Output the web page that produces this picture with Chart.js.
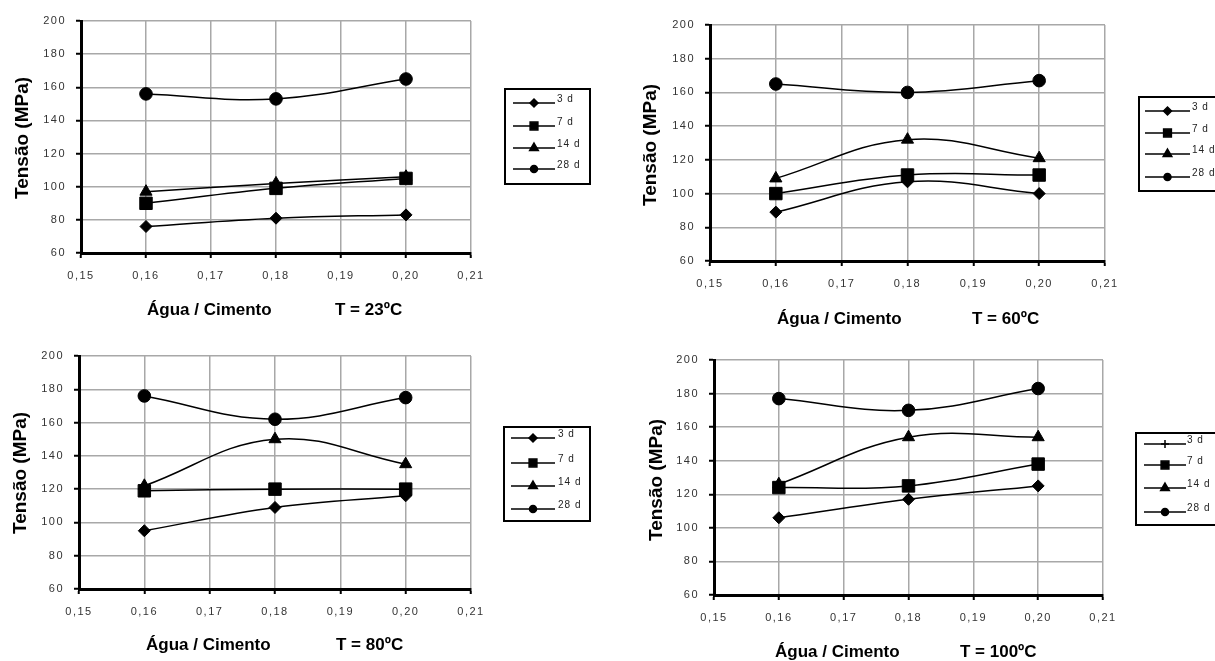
<!DOCTYPE html>
<html lang="pt">
<head>
<meta charset="UTF-8">
<title>Tensão x Água / Cimento</title>
<script src="https://cdn.jsdelivr.net/npm/chart.js@4.4.1/dist/chart.umd.min.js"></script>
<style>
  body { margin: 0; background: #fff; width: 1215px; height: 661px; overflow: hidden; position: relative; }
  canvas { position: absolute; }
</style>
</head>
<body>
<canvas id="c23"></canvas>
<canvas id="c60"></canvas>
<canvas id="c80"></canvas>
<canvas id="c100"></canvas>
<script>
// water / cement ratios (x) and axis ticks
const ratios = [0.16, 0.18, 0.20]
const xTicks = [0.15, 0.16, 0.17, 0.18, 0.19, 0.20, 0.21]
const ages = ['3 d', '7 d', '14 d', '28 d']

// stress (MPa) per age, one set per curing temperature
const t23_3d = [76, 81, 83]
const t23_7d = [90, 99, 105]
const t23_14d = [97, 102, 106]
const t23_28d = [156, 153, 165]

const t60_3d = [89, 107, 100]
const t60_7d = [100, 111, 111]
const t60_14d = [109, 132, 121]
const t60_28d = [165, 160, 167]

const t80_3d = [95, 109, 116]
const t80_7d = [119, 120, 120]
const t80_14d = [122, 150, 135]
const t80_28d = [176, 162, 175]

const t100_3d = [106, 117, 125]
const t100_7d = [124, 125, 138]
const t100_14d = [126, 154, 154]
const t100_28d = [177, 170, 183]

const FONT = 'Arial, "Liberation Sans", sans-serif'
const markers = ['rectRot', 'rect', 'triangle', 'circle']
const markerSize = [6, 8.8, 7, 6.3]
const legendMarkerSize = [4, 5.5, 5, 3.5]

// page layout of each panel (canvas box, plot area, titles, legend)
const panels = [
    { id: 'c23', temp: 'T = 23ºC', series: [t23_3d, t23_7d, t23_14d, t23_28d],
      box: [0, 0, 600, 330], area: [81, 471, 21, 253],
      yTitle: [23, 138], xTitle: [147, 335, 310],
      legend: { x: 505, y: 89, w: 85, h: 95, rows: [103, 126, 148, 169], line: [513, 555], text: 557 } },
    { id: 'c60', temp: 'T = 60ºC', series: [t60_3d, t60_7d, t60_14d, t60_28d],
      box: [600, 0, 615, 340], area: [710, 1105, 25, 261],
      yTitle: [651, 145], xTitle: [777, 972, 319],
      legend: { x: 1139, y: 97, w: 120, h: 94, rows: [111, 133, 154, 177], line: [1145, 1190], text: 1192 } },
    { id: 'c80', temp: 'T = 80ºC', series: [t80_3d, t80_7d, t80_14d, t80_28d],
      box: [0, 330, 600, 331], area: [79, 471, 356, 589],
      yTitle: [21, 473], xTitle: [146, 336, 645],
      legend: { x: 504, y: 427, w: 86, h: 94, rows: [438, 463, 486, 509], line: [511, 555], text: 558 } },
    { id: 'c100', temp: 'T = 100ºC', series: [t100_3d, t100_7d, t100_14d, t100_28d],
      box: [600, 340, 615, 321], area: [714, 1103, 360, 595],
      yTitle: [657, 480], xTitle: [775, 960, 652],
      legend: { x: 1136, y: 433, w: 120, h: 92, rows: [444, 465, 488, 512], line: [1144, 1186], text: 1187 },
      legendMarkers: ['cross', 'rect', 'triangle', 'circle'] },
]

const decor = {
    id: 'decor',
    beforeDraw(chart) {
        const ctx = chart.ctx
        ctx.save()
        ctx.fillStyle = '#fff'
        ctx.fillRect(0, 0, chart.width, chart.height)
        ctx.restore()
        ctx.letterSpacing = '1.5px'
    },
    afterDraw(chart) {
        const p = chart.options.panel
        const ox = p.box[0], oy = p.box[1]
        const ctx = chart.ctx
        ctx.save()
        ctx.letterSpacing = '0px'
        ctx.fillStyle = '#000'

        // y title
        ctx.save()
        ctx.translate(p.yTitle[0] - ox, p.yTitle[1] - oy)
        ctx.rotate(-Math.PI / 2)
        ctx.font = 'bold 19px ' + FONT
        ctx.textAlign = 'center'
        ctx.textBaseline = 'middle'
        ctx.fillText('Tensão (MPa)', 0, 0)
        ctx.restore()

        // x title
        ctx.font = 'bold 17px ' + FONT
        ctx.textAlign = 'left'
        ctx.textBaseline = 'middle'
        ctx.fillText('Água / Cimento', p.xTitle[0] - ox, p.xTitle[2] - oy)
        ctx.fillText(p.temp, p.xTitle[1] - ox, p.xTitle[2] - oy)

        // legend
        const lg = p.legend
        ctx.strokeStyle = '#000'
        ctx.lineWidth = 2
        ctx.strokeRect(lg.x - ox, lg.y - oy, lg.w, lg.h)
        const lm = p.legendMarkers || markers
        ctx.font = '10px ' + FONT
        ctx.letterSpacing = '1px'
        ctx.textBaseline = 'alphabetic'
        ages.forEach((a, i) => {
            const y = lg.rows[i] - oy
            ctx.lineWidth = 1.5
            ctx.beginPath()
            ctx.moveTo(lg.line[0] - ox, y)
            ctx.lineTo(lg.line[1] - ox, y)
            ctx.stroke()
            ctx.fillStyle = '#000'
            Chart.helpers.drawPoint(ctx, { pointStyle: lm[i], radius: legendMarkerSize[i], rotation: 0, borderWidth: lm[i] == 'cross' ? 1.5 : 1 },
                (lg.line[0] + lg.line[1]) / 2 - ox, y)
            ctx.fillStyle = '#222'
            ctx.fillText(a, lg.text - ox, y - 1)
        })
        ctx.restore()
    }
}

function tickFont() {
    return { size: 11, family: FONT }
}

panels.forEach(p => {
    const cv = document.getElementById(p.id)
    const [left, top, w, h] = p.box
    const [aL, aR, aT, aB] = p.area
    cv.width = w
    cv.height = h
    cv.style.left = left + 'px'
    cv.style.top = top + 'px'

    new Chart(cv, {
        type: 'line',
        data: {
            datasets: ages.map((a, i) => ({
                label: a,
                data: ratios.map((x, j) => ({ x: x, y: p.series[i][j] })),
                borderColor: '#000',
                backgroundColor: '#000',
                borderWidth: 1.5,
                pointStyle: markers[i],
                pointRadius: markerSize[i],
                pointBorderWidth: 1,
                tension: 0.4,
                fill: false,
            }))
        },
        options: {
            panel: p,
            responsive: false,
            animation: false,
            devicePixelRatio: 1,
            layout: { padding: { left: 0, top: aT - top, right: left + w - aR, bottom: 0 } },
            plugins: { legend: { display: false }, tooltip: { enabled: false } },
            scales: {
                x: {
                    type: 'linear',
                    min: 0.15,
                    max: 0.21,
                    afterBuildTicks: s => { s.ticks = xTicks.map(v => ({ value: v })) },
                    afterFit: s => { s.height = top + h - aB },
                    ticks: {
                        autoSkip: false,
                        maxRotation: 0,
                        padding: 11,
                        color: '#333',
                        font: tickFont(),
                        callback: v => v.toFixed(2).replace('.', ','),
                    },
                    grid: { color: '#a8a8a8', lineWidth: 1.5, tickColor: '#000', tickLength: 5, tickWidth: 2 },
                    border: { color: '#000', width: 3 },
                },
                y: {
                    min: 60,
                    max: 200,
                    afterFit: s => { s.width = aL - left },
                    ticks: { stepSize: 20, padding: 10, color: '#333', font: tickFont() },
                    grid: { color: '#a8a8a8', lineWidth: 1.5, tickColor: '#000', tickLength: 5, tickWidth: 2 },
                    border: { color: '#000', width: 3 },
                },
            },
        },
        plugins: [decor],
    })
})
</script>
</body>
</html>
